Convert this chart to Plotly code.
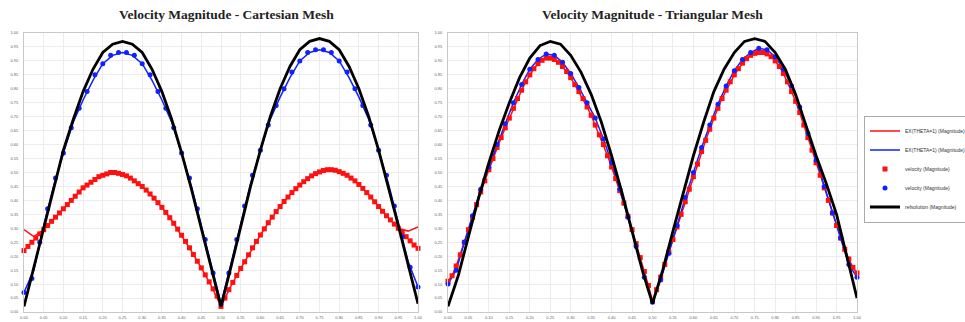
import plotly.graph_objects as go

# ---------------- data ----------------
x_line = [round(i * 0.025, 3) for i in range(41)]
x_red = [round(i * 0.01, 2) for i in range(101)]
x_blue = [round(i * 0.02, 2) for i in range(51)]

# Cartesian mesh
cart_ref = [0.02, 0.16, 0.31, 0.45, 0.58, 0.69, 0.79, 0.87, 0.93, 0.96, 0.97,
            0.96, 0.93, 0.87, 0.79, 0.69, 0.57, 0.44, 0.30, 0.16, 0.02,
            0.16, 0.31, 0.45, 0.58, 0.70, 0.80, 0.88, 0.94, 0.97, 0.98,
            0.97, 0.94, 0.88, 0.80, 0.70, 0.58, 0.45, 0.31, 0.17, 0.03]
cart_ex_blue = [0.07, 0.15, 0.31, 0.45, 0.57, 0.68, 0.76, 0.83, 0.89, 0.92, 0.93,
                0.92, 0.89, 0.83, 0.76, 0.68, 0.57, 0.45, 0.31, 0.17, 0.03,
                0.17, 0.32, 0.46, 0.58, 0.69, 0.77, 0.84, 0.90, 0.93, 0.94,
                0.93, 0.90, 0.84, 0.77, 0.69, 0.58, 0.46, 0.32, 0.18, 0.09]
cart_ex_red = [0.295, 0.27, 0.295, 0.333, 0.37, 0.408, 0.445, 0.47, 0.49, 0.50, 0.493,
               0.475, 0.45, 0.416, 0.375, 0.328, 0.275, 0.218, 0.158, 0.095, 0.02,
               0.093, 0.156, 0.218, 0.276, 0.33, 0.378, 0.42, 0.455, 0.483, 0.502,
               0.51, 0.503, 0.485, 0.457, 0.42, 0.378, 0.338, 0.30, 0.29, 0.305]
cart_vel_blue = [0.07, 0.12, 0.25, 0.37, 0.48, 0.57, 0.66, 0.73, 0.79, 0.85, 0.89, 0.92, 0.93,
                 0.93, 0.92, 0.89, 0.85, 0.79, 0.73, 0.66, 0.57, 0.48, 0.37, 0.26, 0.14, 0.03,
                 0.14, 0.26, 0.38, 0.49, 0.58, 0.67, 0.74, 0.80, 0.86, 0.90, 0.93, 0.94,
                 0.94, 0.93, 0.90, 0.86, 0.80, 0.74, 0.67, 0.58, 0.49, 0.38, 0.27, 0.16, 0.09]
cart_vel_red = [0.22, 0.235, 0.25, 0.265, 0.28, 0.295, 0.31, 0.325, 0.34, 0.355,
                0.37, 0.385, 0.40, 0.415, 0.43, 0.445, 0.455, 0.465, 0.475, 0.485,
                0.49, 0.495, 0.50, 0.50, 0.497, 0.493, 0.488, 0.48, 0.47, 0.46,
                0.45, 0.437, 0.423, 0.408, 0.392, 0.375, 0.357, 0.338, 0.318, 0.297,
                0.275, 0.253, 0.23, 0.206, 0.182, 0.158, 0.133, 0.108, 0.083, 0.057,
                0.02,
                0.05, 0.08, 0.106, 0.131, 0.156, 0.18, 0.205, 0.23, 0.253, 0.276,
                0.298, 0.32, 0.34, 0.36, 0.378, 0.396, 0.412, 0.428, 0.442, 0.455,
                0.467, 0.478, 0.488, 0.496, 0.502, 0.507, 0.51, 0.51, 0.508, 0.503,
                0.497, 0.49, 0.48, 0.47, 0.457, 0.443, 0.428, 0.412, 0.395, 0.378,
                0.361, 0.345, 0.33, 0.315, 0.30, 0.285, 0.27, 0.255, 0.24, 0.228]

# Triangular mesh
tri_ref = [0.02, 0.13, 0.27, 0.41, 0.535, 0.65, 0.75, 0.84, 0.91, 0.955, 0.97,
           0.96, 0.92, 0.86, 0.78, 0.68, 0.56, 0.43, 0.29, 0.15, 0.03,
           0.15, 0.29, 0.43, 0.56, 0.68, 0.79, 0.87, 0.93, 0.97, 0.98,
           0.97, 0.93, 0.87, 0.78, 0.67, 0.56, 0.46, 0.35, 0.20, 0.05]
tri_vel_red = [0.11, 0.13, 0.165, 0.205, 0.25, 0.295, 0.34, 0.385, 0.43, 0.47,
               0.51, 0.55, 0.59, 0.625, 0.66, 0.695, 0.73, 0.765, 0.795, 0.825,
               0.85, 0.872, 0.89, 0.902, 0.91, 0.91, 0.905, 0.895, 0.88, 0.862,
               0.84, 0.815, 0.79, 0.765, 0.735, 0.705, 0.67, 0.635, 0.60, 0.56,
               0.52, 0.478, 0.435, 0.39, 0.343, 0.295, 0.245, 0.195, 0.145, 0.095,
               0.04,
               0.08, 0.125, 0.17, 0.215, 0.26, 0.305, 0.35, 0.395, 0.44, 0.485,
               0.53, 0.575, 0.615, 0.655, 0.695, 0.73, 0.765, 0.795, 0.825, 0.85,
               0.872, 0.892, 0.908, 0.92, 0.927, 0.93, 0.93, 0.925, 0.915, 0.90,
               0.88, 0.855, 0.825, 0.79, 0.755, 0.715, 0.67, 0.625, 0.58, 0.535,
               0.49, 0.445, 0.40, 0.355, 0.31, 0.265, 0.225, 0.19, 0.16, 0.14]
tri_vel_blue = [0.10, 0.15, 0.25, 0.345, 0.44, 0.52, 0.60, 0.675, 0.75, 0.815, 0.87, 0.905, 0.925,
                0.92, 0.895, 0.855, 0.805, 0.75, 0.695, 0.62, 0.535, 0.44, 0.34, 0.235, 0.125, 0.035,
                0.115, 0.21, 0.31, 0.41, 0.50, 0.59, 0.67, 0.745, 0.81, 0.865, 0.905, 0.93,
                0.945, 0.94, 0.915, 0.87, 0.81, 0.735, 0.64, 0.545, 0.45, 0.355, 0.265, 0.17, 0.125]

names = ["EX(THETA=1) (Magnitude)", "EX(THETA=1) (Magnitude)",
         "velocity (Magnitude)", "velocity (Magnitude)", "refsolution (Magnitude)"]
titles = ["Velocity Magnitude - Cartesian Mesh", "Velocity Magnitude - Triangular Mesh"]
y_ticks = [round(i * 0.05, 2) for i in range(21)]

RED = "#ff1010"
BLUE = "#1020ff"
BLACK = "#000000"

fig = go.Figure()


def add_panel(xa, ya, ex_red_x, ex_red, ex_blue_x, ex_blue, vr, vb, ref, show):
    fig.add_trace(go.Scatter(x=ex_red_x, y=ex_red, mode="lines", name=names[0],
                             line=dict(color=RED, width=1.5), xaxis=xa, yaxis=ya,
                             showlegend=show, legendrank=1))
    fig.add_trace(go.Scatter(x=ex_blue_x, y=ex_blue, mode="lines", name=names[1],
                             line=dict(color=BLUE, width=1.5), xaxis=xa, yaxis=ya,
                             showlegend=show, legendrank=2))
    fig.add_trace(go.Scatter(x=x_red, y=vr, mode="markers", name=names[2],
                             marker=dict(color=RED, size=5, symbol="square"),
                             xaxis=xa, yaxis=ya, cliponaxis=False,
                             showlegend=show, legendrank=3))
    fig.add_trace(go.Scatter(x=x_blue, y=vb, mode="markers", name=names[3],
                             marker=dict(color=BLUE, size=5, symbol="circle"),
                             xaxis=xa, yaxis=ya, cliponaxis=False,
                             showlegend=show, legendrank=4))
    fig.add_trace(go.Scatter(x=x_line, y=ref, mode="lines", name=names[4],
                             line=dict(color=BLACK, width=2.8), xaxis=xa, yaxis=ya,
                             showlegend=show, legendrank=5))


add_panel("x", "y", x_line, cart_ex_red, x_line, cart_ex_blue,
          cart_vel_red, cart_vel_blue, cart_ref, True)
add_panel("x2", "y2", x_red, tri_vel_red, x_blue, tri_vel_blue,
          tri_vel_red, tri_vel_blue, tri_ref, False)

axis_common = dict(range=[0, 1], tickvals=y_ticks, tickformat=".2f",
                   showgrid=True, gridcolor="#ececec", gridwidth=1,
                   showline=True, linecolor="#c8c8c8", linewidth=1, mirror=True,
                   ticks="", zeroline=False, fixedrange=True,
                   tickfont=dict(size=4, color="#666666", family="Liberation Sans"))

W, H = 965, 322
ml, mr, mt, mb = 24, 108, 33, 10
pw = W - ml - mr

fig.update_layout(
    width=W, height=H,
    margin=dict(l=ml, r=mr, t=mt, b=mb, autoexpand=False),
    paper_bgcolor="white", plot_bgcolor="white",
    xaxis=dict(domain=[0, (418 - ml) / pw], anchor="y", ticklabelstandoff=1, **axis_common),
    yaxis=dict(domain=[0, 1], anchor="x", ticklabelstandoff=4, **axis_common),
    xaxis2=dict(domain=[(448 - ml) / pw, 1], anchor="y2", ticklabelstandoff=1, **axis_common),
    yaxis2=dict(domain=[0, 1], anchor="x2", ticklabelstandoff=4, **axis_common),
    legend=dict(x=1 + 7 / pw, xanchor="left", y=(312 - 169) / 279, yanchor="middle",
                bgcolor="white", bordercolor="#aaaaaa", borderwidth=1,
                font=dict(size=5, color="#333333", family="Liberation Sans"),
                itemwidth=30, tracegroupgap=0),
    showlegend=True,
)

title_font = dict(family="Liberation Serif", size=13.5, color="#222222")
for tx, t in zip([(226 - ml) / pw, (652 - ml) / pw], titles):
    fig.add_annotation(text="<b>" + t + "</b>", x=tx, xref="paper",
                       y=1 + (mt - 14.5) / 279, yref="paper",
                       xanchor="center", yanchor="middle",
                       showarrow=False, font=title_font)

fig.write_html("out.html")
